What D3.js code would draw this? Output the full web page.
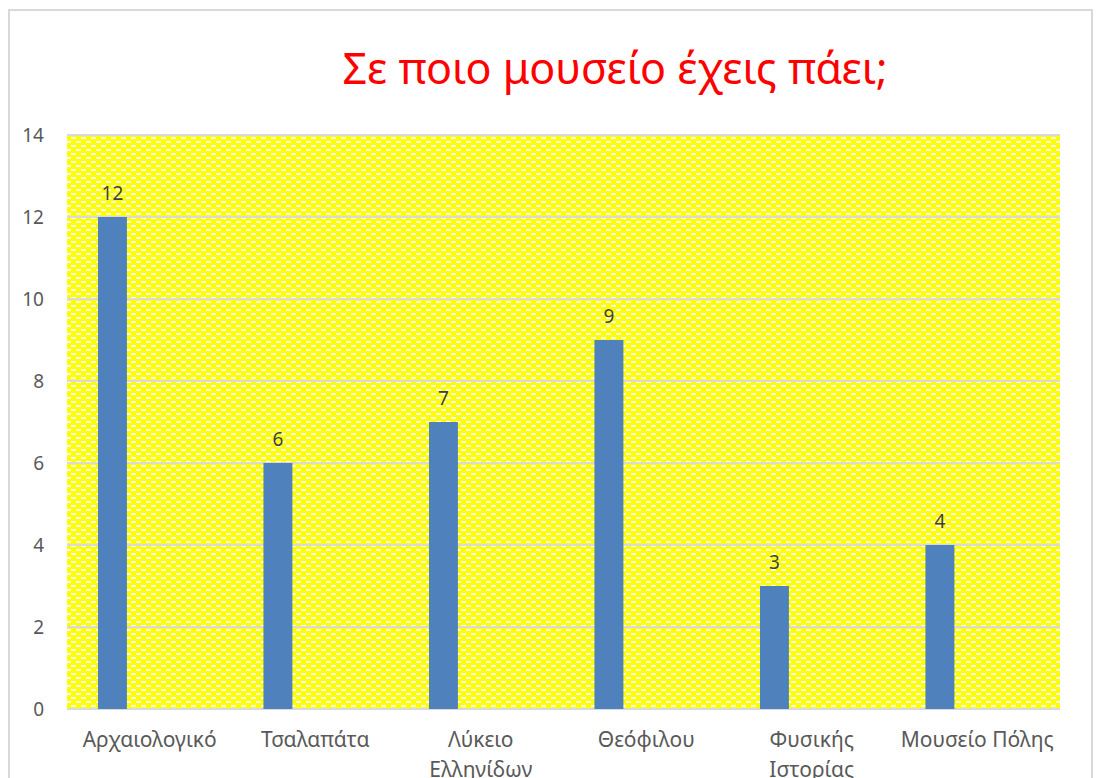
<!DOCTYPE html>
<html>
<head>
<meta charset="utf-8">
<script src="https://cdn.jsdelivr.net/npm/d3@7"></script>
<style>
  body { margin: 0; background: #fff; }
  text { font-family: "Noto Sans", "Open Sans", sans-serif; }
</style>
</head>
<body>
<div id="chart"></div>
<script>
// data
var categories = ["Αρχαιολογικό", "Τσαλαπάτα", "Λύκειο Ελληνίδων", "Θεόφιλου", "Φυσικής Ιστορίας", "Μουσείο Πόλης"];
var labelLines = [["Αρχαιολογικό"], ["Τσαλαπάτα"], ["Λύκειο", "Ελληνίδων"], ["Θεόφιλου"], ["Φυσικής", "Ιστορίας"], ["Μουσείο Πόλης"]];
var values = [12, 6, 7, 9, 3, 4];
var yTicks = [0, 2, 4, 6, 8, 10, 12, 14];
var title = "Σε ποιο μουσείο έχεις πάει;";

var W = 1097, H = 778;
var svg = d3.select("#chart").append("svg").attr("width", W).attr("height", H);

// pattern fill for the plot area (yellow with white dashes)
var defs = svg.append("defs");
var pat = defs.append("pattern").attr("id", "dash").attr("patternUnits", "userSpaceOnUse")
  .attr("width", 10).attr("height", 8);
pat.append("rect").attr("width", 10).attr("height", 8).attr("fill", "#ffff00");
pat.append("rect").attr("x", 1).attr("y", 1).attr("width", 5).attr("height", 2).attr("fill", "#ffffff");
pat.append("rect").attr("x", 6).attr("y", 5).attr("width", 5).attr("height", 2).attr("fill", "#ffffff");
pat.append("rect").attr("x", -4).attr("y", 5).attr("width", 5).attr("height", 2).attr("fill", "#ffffff");

// chart border
svg.append("rect").attr("x", 9).attr("y", 10).attr("width", 1083).attr("height", 800)
  .attr("fill", "none").attr("stroke", "#d9d9d9").attr("stroke-width", 2);

var L = 67, R = 1060, T = 135, B = 709;

var x = d3.scaleBand().domain(categories).range([L, R]);
var y = d3.scaleLinear().domain([0, 14]).range([B, T]);

svg.append("rect").attr("x", L).attr("y", T).attr("width", R - L).attr("height", B - T)
  .attr("fill", "url(#dash)");

// gridlines
svg.append("g").selectAll("line").data(yTicks).join("line")
  .attr("x1", L).attr("x2", R)
  .attr("y1", function(d){ return y(d); }).attr("y2", function(d){ return y(d); })
  .attr("stroke", "#d9d9d9").attr("stroke-width", 2);

// y axis labels
var yAxis = d3.axisLeft(y).tickValues(yTicks).tickSize(0).tickPadding(0);
var gy = svg.append("g").attr("transform", "translate(44,0)").call(yAxis);
gy.select(".domain").remove();
gy.selectAll("text").attr("font-size", 19).attr("fill", "#595959")
  .style("font-family", "'Noto Sans', sans-serif");

// bars
var bw = x.bandwidth();
svg.append("g").selectAll("rect").data(values).join("rect")
  .attr("x", function(d, i){ return x(categories[i]) + bw * 0.187; })
  .attr("width", bw * 0.175)
  .attr("y", function(d){ return y(d); })
  .attr("height", function(d){ return y(0) - y(d); })
  .attr("fill", "#4f81bd");

// data labels
svg.append("g").selectAll("text").data(values).join("text")
  .attr("x", function(d, i){ return x(categories[i]) + bw * 0.187 + bw * 0.0875; })
  .attr("y", function(d){ return y(d) - 17; })
  .attr("text-anchor", "middle").attr("font-size", 19).attr("fill", "#404040")
  .text(function(d){ return d; });

// x labels
var gx = svg.append("g");
labelLines.forEach(function(lines, i){
  var t = gx.append("text").attr("text-anchor", "middle")
    .attr("x", x(categories[i]) + bw / 2).attr("y", 747)
    .attr("font-size", 21).attr("fill", "#595959");
  lines.forEach(function(s, k){
    t.append("tspan").attr("x", x(categories[i]) + bw / 2).attr("dy", k === 0 ? 0 : 30).text(s);
  });
});

// title
svg.append("text").attr("x", 615).attr("y", 84).attr("text-anchor", "middle")
  .attr("font-size", 43).attr("fill", "#ff0000").text(title);
</script>
</body>
</html>
